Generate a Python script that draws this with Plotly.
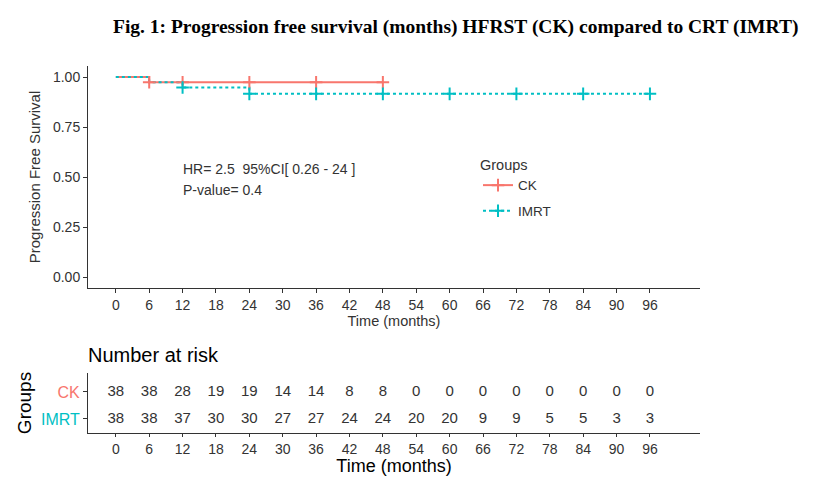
import plotly.graph_objects as go

# ---- data ----
ck_times = [0, 6, 48]
ck_surv = [1.0, 0.9737, 0.9737]
ck_censor_t = [6, 12, 24, 36, 48]
ck_censor_s = [0.9737, 0.9737, 0.9737, 0.9737, 0.9737]

imrt_times = [0, 6, 12, 24, 96]
imrt_surv = [1.0, 0.9737, 0.9474, 0.9158, 0.9158]
imrt_censor_t = [12, 24, 36, 48, 60, 72, 84, 96]
imrt_censor_s = [0.9474, 0.9158, 0.9158, 0.9158, 0.9158, 0.9158, 0.9158, 0.9158]

risk_times = [0, 6, 12, 18, 24, 30, 36, 42, 48, 54, 60, 66, 72, 78, 84, 90, 96]
risk_ck = [38, 38, 28, 19, 19, 14, 14, 8, 8, 0, 0, 0, 0, 0, 0, 0, 0]
risk_imrt = [38, 38, 37, 30, 30, 27, 27, 24, 24, 20, 20, 9, 9, 5, 5, 3, 3]

groups = ["CK", "IMRT"]
y_ticks = [0, 0.25, 0.5, 0.75, 1.0]
y_ticklabels = ["0.00", "0.25", "0.50", "0.75", "1.00"]

CK_COL = "#F8766D"
IMRT_COL = "#00BFC4"
FONT = "Liberation Sans, Arial, sans-serif"
TXT = "#333333"

# page body has an 8px margin; figure is sized to fit inside the window
OFF = 8
W, H = 813 - 2 * OFF, 484 - 2 * OFF
MB = 14  # bottom margin, room for the bottom axis title
PH = H - MB


def px(x):
    return (x - OFF) / W


def py(y):
    return 1 - (y - OFF) / PH


fig = go.Figure()

# KM curves
fig.add_trace(go.Scatter(x=ck_times, y=ck_surv, mode="lines", line=dict(color=CK_COL, width=2, shape="hv"),
                         legendgroup="CK", showlegend=False, xaxis="x", yaxis="y"))
fig.add_trace(go.Scatter(x=imrt_times, y=imrt_surv, mode="lines",
                         line=dict(color=IMRT_COL, width=2, shape="hv", dash="3px,3px"),
                         legendgroup="IMRT", showlegend=False, xaxis="x", yaxis="y"))
# censor marks
mk = dict(symbol="cross-thin", size=9)
fig.add_trace(go.Scatter(x=ck_censor_t, y=ck_censor_s, mode="markers",
                         marker=dict(**mk, line=dict(color=CK_COL, width=2)),
                         legendgroup="CK", showlegend=False, xaxis="x", yaxis="y"))
fig.add_trace(go.Scatter(x=imrt_censor_t, y=imrt_censor_s, mode="markers",
                         marker=dict(**mk, line=dict(color=IMRT_COL, width=2)),
                         legendgroup="IMRT", showlegend=False, xaxis="x", yaxis="y"))
# legend entries
fig.add_trace(go.Scatter(x=[None], y=[None], mode="lines+markers", name="CK", legendgroup="CK",
                         line=dict(color=CK_COL, width=2),
                         marker=dict(**mk, line=dict(color=CK_COL, width=2)),
                         xaxis="x", yaxis="y"))
fig.add_trace(go.Scatter(x=[None], y=[None], mode="lines+markers", name="IMRT", legendgroup="IMRT",
                         line=dict(color=IMRT_COL, width=2, dash="3px,3px"),
                         marker=dict(**mk, line=dict(color=IMRT_COL, width=2)),
                         xaxis="x", yaxis="y"))

# risk table
fig.add_trace(go.Scatter(x=risk_times, y=[2] * len(risk_times), mode="text",
                         text=[str(v) for v in risk_ck], textfont=dict(family=FONT, size=15, color=TXT),
                         showlegend=False, xaxis="x2", yaxis="y2", hoverinfo="skip"))
fig.add_trace(go.Scatter(x=risk_times, y=[1] * len(risk_times), mode="text",
                         text=[str(v) for v in risk_imrt], textfont=dict(family=FONT, size=15, color=TXT),
                         showlegend=False, xaxis="x2", yaxis="y2", hoverinfo="skip"))

axis_common = dict(showgrid=False, zeroline=False, showline=True, linecolor="#333333", linewidth=1,
                   ticks="outside", ticklen=4, tickcolor="#333333")

fig.update_layout(
    width=W, height=H,
    margin=dict(l=0, r=0, t=0, b=MB),
    plot_bgcolor="white", paper_bgcolor="white",
    font=dict(family=FONT, color=TXT),
    xaxis=dict(domain=[px(88), px(700)], range=[-5, 105], tickvals=risk_times,
               tickfont=dict(size=14, color=TXT), anchor="y",
               title=dict(text="Time (months)", font=dict(size=14.5, color=TXT), standoff=3),
               **axis_common),
    yaxis=dict(domain=[py(288), py(66)], range=[-0.055, 1.055], tickvals=y_ticks, ticktext=y_ticklabels,
               tickfont=dict(size=14, color=TXT), anchor="x",
               title=dict(text="Progression Free Survival", font=dict(size=15, color=TXT), standoff=8),
               **axis_common),
    xaxis2=dict(domain=[px(88), px(700)], range=[-5, 105], tickvals=risk_times,
                tickfont=dict(size=14, color=TXT), anchor="y2",
                title=dict(text="Time (months)", font=dict(size=18, color="black"), standoff=4),
                **{**axis_common, "ticklen": 3}),
    yaxis2=dict(domain=[py(433), py(373)], range=[0.48, 2.7], tickvals=[2, 1], ticktext=[
        f"<span style='color:{CK_COL}'>{groups[0]}</span>",
        f"<span style='color:{IMRT_COL}'>{groups[1]}</span>"],
                tickfont=dict(size=16), anchor="x2",
                title=dict(text="Groups", font=dict(size=19, color="black"), standoff=4),
                **axis_common),
    legend=dict(x=px(478), y=py(151), xanchor="left", yanchor="top",
                title=dict(text="Groups", font=dict(size=14.5, color=TXT)),
                font=dict(size=13.5, color=TXT), bgcolor="rgba(0,0,0,0)",
                itemwidth=30, tracegroupgap=5),
    showlegend=True,
)

fig.add_annotation(text="<b>Fig. 1: Progression free survival (months) HFRST (CK) compared to CRT (IMRT)</b>",
                   x=px(455), y=py(27), xref="paper", yref="paper", showarrow=False,
                   xanchor="center", yanchor="middle",
                   font=dict(family="Liberation Serif, Times New Roman, serif", size=19.5, color="black"))
fig.add_annotation(text="HR= 2.5  95%CI[ 0.26 - 24 ]", x=px(181), y=py(169), xref="paper", yref="paper",
                   xanchor="left", yanchor="middle", showarrow=False, font=dict(size=14, color=TXT))
fig.add_annotation(text="P-value= 0.4", x=px(181), y=py(190), xref="paper", yref="paper",
                   xanchor="left", yanchor="middle", showarrow=False, font=dict(size=14, color=TXT))
fig.add_annotation(text="Number at risk", x=px(86), y=py(355), xref="paper", yref="paper",
                   xanchor="left", yanchor="middle", showarrow=False, font=dict(size=20, color="black"))

fig.write_html("out.html")
